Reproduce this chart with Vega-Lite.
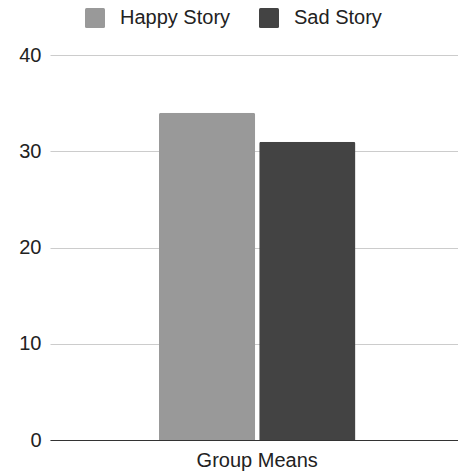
{
  "$schema": "https://vega.github.io/schema/vega-lite/v6.json",
  "width": 408,
  "height": 385,
  "autosize": {"type": "none"},
  "padding": {"left": 50, "top": 55, "right": 0, "bottom": 31},
  "background": "white",
  "config": {
    "font": "Liberation Sans",
    "view": {"stroke": null}
  },
  "data": {
    "values": [
      {"group": "Group Means", "story": "Happy Story", "mean": 34},
      {"group": "Group Means", "story": "Sad Story", "mean": 31}
    ]
  },
  "mark": {"type": "bar", "cornerRadiusTopLeft": 2, "cornerRadiusTopRight": 2},
  "encoding": {
    "x": {
      "field": "group",
      "type": "nominal",
      "scale": {"paddingInner": 0.35, "paddingOuter": 0.35, "align": 0.515},
      "axis": {
        "title": null,
        "labelAngle": 0,
        "ticks": false,
        "labelPadding": 10,
        "labelFontSize": 20,
        "labelColor": "#222222",
        "domainColor": "#333333",
        "domainWidth": 1.2
      }
    },
    "xOffset": {
      "field": "story",
      "type": "nominal",
      "scale": {"paddingInner": 0.04, "paddingOuter": 0}
    },
    "y": {
      "field": "mean",
      "type": "quantitative",
      "scale": {"domain": [0, 40], "nice": false},
      "axis": {
        "title": null,
        "values": [0, 10, 20, 30, 40],
        "domain": false,
        "ticks": false,
        "labelPadding": 9,
        "labelFontSize": 20,
        "labelColor": "#222222",
        "gridColor": "#cccccc",
        "gridWidth": 1
      }
    },
    "color": {
      "field": "story",
      "type": "nominal",
      "scale": {"domain": ["Happy Story", "Sad Story"], "range": ["#999999", "#434343"]},
      "legend": {
        "title": null,
        "orient": "none",
        "direction": "horizontal",
        "legendX": 35,
        "legendY": -47,
        "padding": 0,
        "symbolType": "M-0.85,-1H0.85Q1,-1 1,-0.85V0.85Q1,1 0.85,1H-0.85Q-1,1 -1,0.85V-0.85Q-1,-1 -0.85,-1Z",
        "symbolSize": 400,
        "symbolStrokeWidth": 0,
        "symbolOpacity": 1,
        "labelFontSize": 20,
        "labelColor": "#222222",
        "labelOffset": 15,
        "columnPadding": 28
      }
    }
  }
}
